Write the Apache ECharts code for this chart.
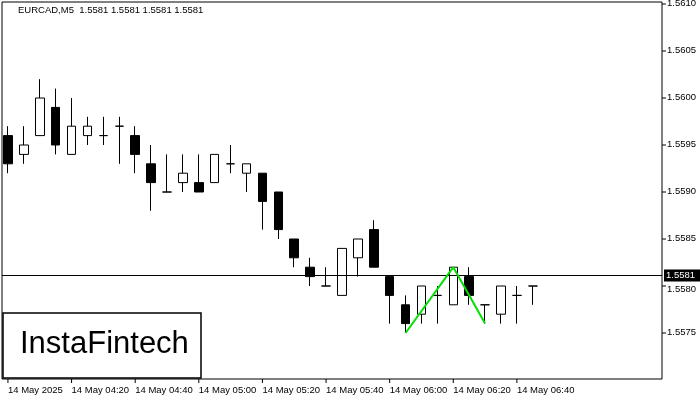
<!DOCTYPE html>
<html><head><meta charset="utf-8">
<script src="https://cdn.jsdelivr.net/npm/echarts@6/dist/echarts.min.js"></script>
<style>html,body{margin:0;padding:0;background:#fff}#c{width:700px;height:400px}</style>
</head><body><div id="c"></div>
<script>
const times = ['04:00','04:05','04:10','04:15','04:20','04:25','04:30','04:35','04:40','04:45','04:50','04:55','05:00','05:05','05:10','05:15','05:20','05:25','05:30','05:35','05:40','05:45','05:50','05:55','06:00','06:05','06:10','06:15','06:20','06:25','06:30','06:35','06:40','06:45'];
// [open, close, low, high]
const ohlc = [
[1.5596,1.5593,1.5592,1.5597],[1.5594,1.5595,1.5593,1.5597],[1.5596,1.5600,1.5596,1.5602],[1.5599,1.5595,1.5594,1.5601],
[1.5594,1.5597,1.5594,1.5600],[1.5596,1.5597,1.5595,1.5598],[1.5596,1.5596,1.5595,1.5598],[1.5597,1.5597,1.5593,1.5598],
[1.5596,1.5594,1.5592,1.5597],[1.5593,1.5591,1.5588,1.5595],[1.5590,1.5590,1.5590,1.5594],[1.5591,1.5592,1.5590,1.5594],
[1.5591,1.5590,1.5590,1.5594],[1.5591,1.5594,1.5591,1.5594],[1.5593,1.5593,1.5592,1.5595],[1.5592,1.5593,1.5590,1.5593],
[1.5592,1.5589,1.5586,1.5592],[1.5590,1.5586,1.5585,1.5590],[1.5585,1.5583,1.5582,1.5585],[1.5582,1.5581,1.5580,1.5583],
[1.5580,1.5580,1.5580,1.5582],[1.5579,1.5584,1.5579,1.5584],[1.5583,1.5585,1.5581,1.5585],[1.5586,1.5582,1.5582,1.5587],
[1.5581,1.5579,1.5576,1.5581],[1.5578,1.5576,1.5575,1.5579],[1.5577,1.5580,1.5576,1.5580],[1.5579,1.5579,1.5576,1.5580],
[1.5578,1.5582,1.5578,1.5582],[1.5581,1.5579,1.5578,1.5582],[1.5578,1.5578,1.5576,1.5578],[1.5577,1.5580,1.5576,1.5580],
[1.5579,1.5579,1.5576,1.5580],[1.5580,1.5580,1.5578,1.5580]
];
const pattern = [[25,1.5575],[28,1.5582],[30,1.5576]];
const yTicks = [1.5575,1.5580,1.5585,1.5590,1.5595,1.5600,1.5605,1.5610];
const currentPrice = 1.5581;
const header = 'EURCAD,M5  1.5581 1.5581 1.5581 1.5581';

const cats = times.concat(Array.from({length: 42 - times.length}, (_, i) => 'x' + i));
const chart = echarts.init(document.getElementById('c'));
const F = 'Liberation Sans';
chart.setOption({
  animation: false,
  grid: {left: -4, width: 672, top: 4, height: 376},
  xAxis: {
    type: 'category', data: cats, boundaryGap: true,
    axisLine: {show: false},
    axisTick: {show: false},
    axisLabel: {
      interval: 0, align: 'left', margin: 5, fontFamily: F, fontSize: 9.5, color: '#000',
      formatter: (v, i) => (i % 4 === 0 && i < times.length) ? (i === 0 ? '14 May 2025' : '14 May ' + v) : ''
    },
    splitLine: {show: false}
  },
  yAxis: {
    type: 'value', position: 'right', min: 1.5570, max: 1.5610, interval: 0.0005,
    axisLine: {show: false}, splitLine: {show: false},
    axisTick: {show: false},
    axisLabel: {show: false}
  },
  series: [
    {type: 'candlestick', data: ohlc, barWidth: 9,
      itemStyle: {color: '#fff', color0: '#000', borderColor: '#000', borderColor0: '#000', borderWidth: 1}},
    {type: 'line', data: pattern, symbol: 'none', lineStyle: {color: '#00e000', width: 2}, z: 10}
  ]
});
const g = [
  {type: 'rect', shape: {x: 2, y: 2, width: 660, height: 377}, style: {fill: 'none', stroke: '#000', lineWidth: 1}, z: 100},
  {type: 'text', left: 18, top: 5, style: {text: header, font: '9.5px ' + F, fill: '#000'}},
  {type: 'rect', shape: {x: 3, y: 313, width: 198, height: 65}, style: {fill: '#fff', stroke: '#000', lineWidth: 1.5}, z: 50},
  {type: 'text', left: 20, top: 329, style: {text: 'InstaFintech', font: '31px ' + F, fill: '#000'}, z: 51}
];
yTicks.forEach(t => {
  const y = chart.convertToPixel({yAxisIndex: 0}, t);
  g.push({type: 'line', shape: {x1: 662, y1: y, x2: 666, y2: y}, style: {stroke: '#000'}});
  g.push({type: 'text', x: 667, y: t === 1.5580 ? y - 2 : y - 6, style: {text: t.toFixed(4), font: '9.5px ' + F, fill: '#000'}});
});
const cy = Math.round(chart.convertToPixel({yAxisIndex: 0}, currentPrice)) - 1.5;
g.push({type: 'line', shape: {x1: 2, y1: cy, x2: 662, y2: cy}, style: {stroke: '#000', lineWidth: 1}, z: 5});
g.push({type: 'rect', shape: {x: 664, y: cy - 6, width: 36, height: 12}, style: {fill: '#000'}, z: 60});
g.push({type: 'text', x: 666, y: cy - 5.5, style: {text: currentPrice.toFixed(4), font: '9.5px ' + F, fill: '#fff'}, z: 61});
for (let i = 0; i < times.length; i += 4) {
  const x = chart.convertToPixel({xAxisIndex: 0}, i);
  g.push({type: 'line', shape: {x1: x, y1: 379, x2: x, y2: 383}, style: {stroke: '#000'}});
}
chart.setOption({graphic: g});
</script></body></html>
